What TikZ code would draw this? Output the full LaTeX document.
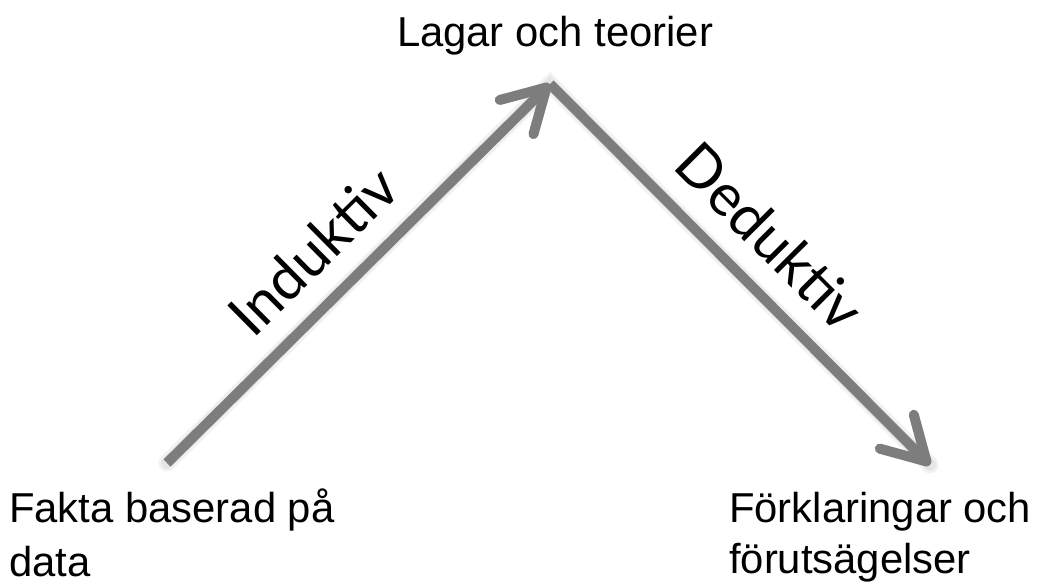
\documentclass[tikz,border=0pt]{standalone}
\usepackage{fontspec}
\setmainfont{Liberation Sans}
\newfontfamily\lightfont{Lato}
\usetikzlibrary{arrows.meta}
\definecolor{arrowgray}{RGB}{125,125,125}
\begin{document}
\begin{tikzpicture}[x=1pt,y=1pt,
  caption/.style={inner sep=0pt,font=\fontsize{41.8pt}{#1}\selectfont},
  caption/.default=54pt,
  slanted/.style={inner sep=0pt,font=\lightfont\fontsize{58.5pt}{62pt}\selectfont},
  flow/.style={line width=10pt,draw=arrowgray,
    -{Straight Barb[length=42pt,width=48pt,round]}},
  shade/.style={line width=#1,draw=black,opacity=0.05,line cap=round}]
\useasboundingbox (0,0) rectangle (1040,581);

% end points of the two reasoning arrows
\coordinate (facts) at (167,118);
\coordinate (apex) at (550,497);
\coordinate (predict) at (930,116);

% soft drop shadow under the arrows
\foreach \w in {12pt,17pt}{
  \draw[shade=\w,shift={(3pt,-4pt)}] (facts) -- (apex) -- (predict);
}

% the arrows with their labels
\draw[flow] (facts) -- node[slanted,pos=0.47,sloped,anchor=base,yshift=27pt] {Induktiv} (apex);
\draw[flow] (apex) -- node[slanted,pos=0.49,sloped,anchor=base,yshift=27pt] {Deduktiv} (predict);

% texts at the three corners (a node's base is its last line)
\node[caption,anchor=base] (laws) at (555,534) {Lagar och teorier};
\node[caption=54pt,anchor=base west,align=left] (data) at (9,5) {Fakta baserad på\\data};
\node[caption=51pt,anchor=base west,align=left] (expl) at (729,8) {Förklaringar och\\förutsägelser};
\end{tikzpicture}
\end{document}
